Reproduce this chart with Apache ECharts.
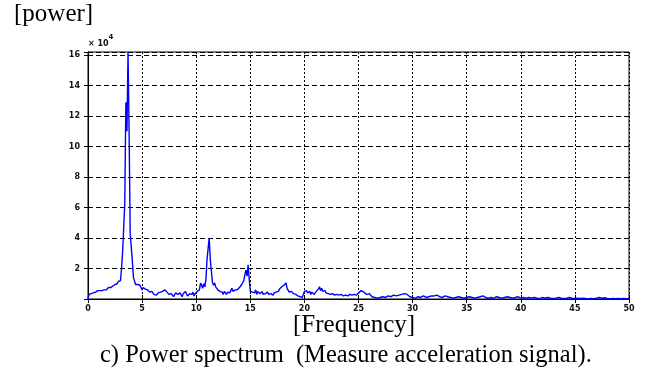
<!DOCTYPE html>
<html>
<head>
<meta charset="utf-8">
<style>
  html, body { margin: 0; padding: 0; background: #fff; }
  #chart { width: 647px; height: 377px; }
</style>
<script src="https://cdn.jsdelivr.net/npm/echarts@6/dist/echarts.min.js"></script>
</head>
<body>
<div id="chart"></div>
<script>
// Power spectrum of the measured acceleration signal, in units of 10^4.
// 0 - 25 Hz sampled every 0.1 Hz
const lowBandStep = 0.1;
const lowBand = [
  0.0, 0.3, 0.4, 0.35, 0.45, 0.4, 0.5, 0.45, 0.5, 0.55,
  0.5, 0.55, 0.6, 0.55, 0.5, 0.6, 0.65, 0.6, 0.7, 0.75,
  0.8, 0.75, 0.8, 0.85, 0.8, 0.95, 1.05, 1.0, 1.15, 1.1,
  1.2, 2.0, 3.1, 3.2, 6.3, 12.9, 11.0, 16.2, 10.9, 4.3,
  4.2, 2.5, 1.4, 1.3, 0.95, 1.0, 0.95, 1.0, 0.9, 0.8,
  0.6, 0.75, 0.8, 0.65, 0.55, 0.6, 0.5, 0.45, 0.4, 0.5,
  0.4, 0.3, 0.2, 0.25, 0.35, 0.4, 0.3, 0.45, 0.4, 0.5,
  0.55, 0.6, 0.5, 0.45, 0.4, 0.3, 0.2, 0.35, 0.3, 0.15,
  0.25, 0.4, 0.5, 0.3, 0.2, 0.4, 0.3, 0.15, 0.35, 0.45,
  0.5, 0.4, 0.2, 0.3, 0.35, 0.4, 0.3, 0.45, 0.2, 0.35,
  0.3, 0.5, 0.4, 0.6, 1.05, 0.9, 0.7, 1.0, 0.8, 1.3,
  2.6, 2.6, 4.0, 2.6, 2.6, 1.1, 0.9, 1.05, 0.8, 0.9,
  0.6, 0.7, 0.5, 0.6, 0.45, 0.3, 0.5, 0.4, 0.3, 0.45,
  0.35, 0.4, 0.55, 0.7, 0.5, 0.45, 0.6, 0.55, 0.6, 0.7,
  0.75, 0.8, 0.95, 1.05, 1.2, 1.6, 1.9, 1.5, 2.25, 1.3,
  0.5, 0.6, 0.45, 0.55, 0.4, 0.6, 0.3, 0.5, 0.45, 0.35,
  0.4, 0.5, 0.3, 0.25, 0.35, 0.4, 0.45, 0.3, 0.2, 0.35,
  0.3, 0.25, 0.4, 0.35, 0.45, 0.55, 0.5, 0.65, 0.7, 0.8,
  0.75, 0.9, 0.85, 1.05, 0.7, 0.6, 0.45, 0.4, 0.5, 0.4,
  0.35, 0.3, 0.3, 0.25, 0.2, 0.25, 0.15, 0.2, 0.1, 0.2,
  0.5, 0.45, 0.55, 0.4, 0.35, 0.5, 0.3, 0.45, 0.4, 0.3,
  0.35, 0.5, 0.45, 0.65, 0.8, 0.55, 0.7, 0.5, 0.45, 0.55,
  0.4, 0.5, 0.35, 0.45, 0.3, 0.4, 0.35, 0.3, 0.25, 0.35,
  0.3, 0.35, 0.25, 0.2, 0.3, 0.25, 0.2, 0.3, 0.25, 0.15,
  0.2, 0.25, 0.3, 0.2, 0.25, 0.35, 0.3, 0.2, 0.25, 0.3,
  0.4
];
// 25.25 - 50 Hz sampled every 0.25 Hz
const highBandStart = 25.25;
const highBandStep = 0.25;
const highBand = [
  0.55, 0.45, 0.3, 0.35, 0.15, 0.1, 0.05, 0.1,
  0.15, 0.1, 0.2, 0.15, 0.25, 0.2, 0.25, 0.3,
  0.35, 0.3, 0.15, 0.1, 0.05, 0.15, 0.1, 0.2,
  0.1, 0.15, 0.2, 0.2, 0.25, 0.15, 0.1, 0.2,
  0.15, 0.1, 0.05, 0.1, 0.15, 0.1, 0.05, 0.1,
  0.15, 0.1, 0.05, 0.1, 0.15, 0.2, 0.1, 0.05,
  0.1, 0.05, 0.15, 0.1, 0.05, 0.1, 0.15, 0.1,
  0.05, 0.1, 0.15, 0.05, 0.1, 0.05, 0.1, 0.05,
  0.1, 0.05, 0.03, 0.1, 0.05, 0.1, 0.05, 0.03,
  0.05, 0.1, 0.05, 0.03, 0.05, 0.1, 0.05, 0.03,
  0.05, 0.03, 0.05, 0.03, 0.02, 0.03, 0.02, 0.05,
  0.1, 0.05, 0.08, 0.03, 0.02, 0.03, 0.02, 0.03,
  0.02, 0.03, 0.02, 0.02
];
const xTicks = [0, 5, 10, 15, 20, 25, 30, 35, 40, 45, 50];
const yTicks = [2, 4, 6, 8, 10, 12, 14, 16];

const spectrum = [];
lowBand.forEach((v, i) => spectrum.push([+(i * lowBandStep).toFixed(2), v]));
highBand.forEach((v, i) => spectrum.push([+(highBandStart + i * highBandStep).toFixed(2), v]));

const tickFont = { fontFamily: 'DejaVu Sans', fontSize: 8, fontWeight: 'bold', color: '#111' };
const chart = echarts.init(document.getElementById('chart'), null, { renderer: 'canvas' });

const axisCommon = {
  type: 'value',
  axisLine: { show: true, lineStyle: { color: '#000', width: 1 } },
  axisTick: { show: true, inside: true, length: 4, lineStyle: { color: '#000' } }
};

chart.setOption({
  animation: false,
  backgroundColor: '#fff',
  grid: { left: 88, top: 52, width: 541, height: 247, show: true, borderColor: '#000', borderWidth: 1, containLabel: false },
  xAxis: [
    Object.assign({}, axisCommon, {
      min: 0, max: 50, interval: 5, position: 'bottom',
      axisLabel: Object.assign({}, tickFont, { margin: 6, formatter: v => xTicks.includes(v) ? String(v) : '' }),
      splitLine: { show: true, lineStyle: { color: '#000', type: [2, 2], width: 1 } }
    }),
    Object.assign({}, axisCommon, {
      min: 0, max: 50, interval: 5, position: 'top',
      axisLabel: { show: false }, splitLine: { show: false }
    })
  ],
  yAxis: [
    Object.assign({}, axisCommon, {
      min: 0, max: 16.2, interval: 2, position: 'left',
      axisLabel: Object.assign({}, tickFont, { margin: 8, formatter: v => yTicks.includes(v) ? String(v) : '' }),
      splitLine: { show: true, lineStyle: { color: '#000', type: [5, 3], width: 1 } }
    }),
    Object.assign({}, axisCommon, {
      min: 0, max: 16.2, interval: 2, position: 'right',
      axisLabel: { show: false }, splitLine: { show: false }
    })
  ],
  series: [{
    type: 'line',
    data: spectrum,
    showSymbol: false,
    lineStyle: { color: '#0000ff', width: 1.4 },
    itemStyle: { color: '#0000ff' },
    clip: true,
    z: 5
  }],
  graphic: [
    { type: 'text', left: 14, top: 2, style: { text: '[power]', font: '25px "Liberation Serif"', fill: '#000' } },
    { type: 'text', left: 88, top: 34, style: {
        text: '{b|× 10}{s|4}',
        rich: {
          b: { font: 'bold 8px "DejaVu Sans"', fill: '#111', padding: [6, 0, 0, 0] },
          s: { font: 'bold 7px "DejaVu Sans"', fill: '#111', verticalAlign: 'top' }
        }
      } },
    { type: 'text', left: 293, top: 313, style: { text: '[Frequency]', font: '25px "Liberation Serif"', fill: '#000' } },
    { type: 'text', left: 100, top: 343, style: { text: 'c) Power spectrum  (Measure acceleration signal).', font: '24.5px "Liberation Serif"', fill: '#000' } }
  ]
});
</script>
</body>
</html>
